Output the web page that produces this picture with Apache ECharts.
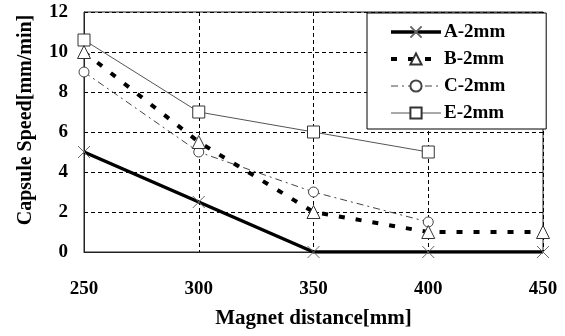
<!DOCTYPE html>
<html><head><meta charset="utf-8">
<script src="https://cdn.jsdelivr.net/npm/echarts@6/dist/echarts.min.js"></script>
<style>html,body{margin:0;padding:0;background:#fff}#c{width:565px;height:336px}</style>
</head><body><div id="c"></div>
<script>
var distances = [250, 300, 350, 400, 450];
var seriesNames = ['A-2mm', 'B-2mm', 'C-2mm', 'E-2mm'];
var speedA = [5, 2.5, 0, 0, 0];
var speedB = [10, 5.5, 2, 1, 1];
var speedC = [9, 5, 3, 1.5];
var speedE = [10.6, 7, 6, 5];
var xTicks = [250, 300, 350, 400, 450];
var yTicks = [0, 2, 4, 6, 8, 10, 12];

function pairs(vals){ return vals.map(function(v,i){ return [distances[i], v]; }); }
var FONT = '"Liberation Serif","Times New Roman",serif';
var crossPath = 'path://M0,0L10,10M10,0L0,10';

var chart = echarts.init(document.getElementById('c'));
chart.setOption({
  backgroundColor: '#fff',
  animation: false,
  grid: {left: 84, right: 22, top: 12, bottom: 84, show: true, borderColor: '#222', borderWidth: 1, backgroundColor: 'transparent'},
  legend: {
    left: 367, top: 13, orient: 'vertical',
    padding: [9, 41, 6, 22], itemWidth: 50, itemHeight: 14, itemGap: 7,
    backgroundColor: '#fff', borderColor: '#000', borderWidth: 1, borderRadius: 0,
    lineStyle: {width: 'inherit'},
    textStyle: {fontFamily: FONT, fontWeight: 'bold', fontSize: 19, lineHeight: 20, color: '#000', padding: [0,0,0,-2]},
    data: seriesNames
  },
  xAxis: {
    type: 'value', min: xTicks[0], max: xTicks[xTicks.length-1], interval: 50,
    name: 'Magnet distance[mm]', nameLocation: 'middle', nameGap: 56,
    nameTextStyle: {fontFamily: FONT, fontWeight: 'bold', fontSize: 21, color: '#000'},
    axisLine: {lineStyle: {color: '#222', width: 1}},
    axisTick: {show: false},
    axisLabel: {fontFamily: FONT, fontWeight: 'bold', fontSize: 19, color: '#000', margin: 28},
    splitLine: {show: true, lineStyle: {color: '#000', type: [4, 3], width: 1}}
  },
  yAxis: {
    type: 'value', min: yTicks[0], max: yTicks[yTicks.length-1], interval: 2,
    name: 'Capsule Speed[mm/min]', nameLocation: 'middle', nameGap: 48,
    nameTextStyle: {fontFamily: FONT, fontWeight: 'bold', fontSize: 20, color: '#000', padding: [0,0,0,24]},
    axisLine: {show: true, lineStyle: {color: '#222', width: 1}},
    axisTick: {show: false},
    axisLabel: {fontFamily: FONT, fontWeight: 'bold', fontSize: 19, color: '#000', margin: 16},
    splitLine: {show: true, lineStyle: {color: '#000', type: [4, 3], width: 1}}
  },
  series: [
    {name: seriesNames[0], type: 'line', data: pairs(speedA), symbol: crossPath, symbolSize: 12,
     lineStyle: {color: '#000', width: 3.5},
     itemStyle: {color: '#fff', borderColor: '#666', borderWidth: 1}, z: 5},
    {name: seriesNames[1], type: 'line', data: pairs(speedB), symbol: 'triangle', symbolSize: 13,
     lineStyle: {color: '#000', width: 4, type: [6, 11]},
     itemStyle: {color: '#fff', borderColor: '#333', borderWidth: 1}, z: 4},
    {name: seriesNames[2], type: 'line', data: pairs(speedC), symbol: 'circle', symbolSize: 10,
     lineStyle: {color: '#444', width: 1, type: [7, 4, 2, 4]},
     itemStyle: {color: '#fff', borderColor: '#444', borderWidth: 1}, z: 3},
    {name: seriesNames[3], type: 'line', data: pairs(speedE), symbol: 'rect', symbolSize: 12,
     lineStyle: {color: '#555', width: 1},
     itemStyle: {color: '#fff', borderColor: '#333', borderWidth: 1}, z: 3}
  ]
});
</script></body></html>
